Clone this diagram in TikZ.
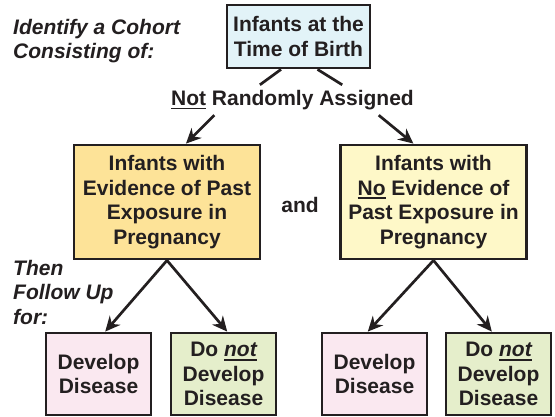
\documentclass[tikz,border=0pt]{standalone}
\usepackage{fontspec}
\setmainfont{Liberation Sans}
\usetikzlibrary{arrows.meta}
\definecolor{ink}{HTML}{231F20}
\definecolor{birthfill}{HTML}{E2F3F8}
\definecolor{exposedfill}{HTML}{FDE398}
\definecolor{unexposedfill}{HTML}{FEF8C8}
\definecolor{diseasefill}{HTML}{FAE8F0}
\definecolor{healthyfill}{HTML}{E5EECB}
\newcommand\undl[1]{\setbox0\hbox{#1}\rlap{\rule[-4pt]{\wd0}{1.8pt}}\box0\relax}

\begin{document}
\begin{tikzpicture}[x=1pt,y=-1pt,
  every node/.style={font=\fontsize{21}{24.5}\selectfont\bfseries, text=ink, inner sep=0pt, align=center},
  cellbox/.style={draw=ink, line width=2.8pt},
  midbox/.style={cellbox, minimum width=186pt, minimum height=114pt},
  endbox/.style={cellbox, minimum width=105pt, minimum height=82pt},
  note/.style={font=\fontsize{21}{24.5}\selectfont\bfseries\itshape, align=left, anchor=north west},
  connector/.style={draw=ink, line width=2.7pt},
  pointer/.style={connector, -{Stealth[length=15pt,width=14pt]}}]
\useasboundingbox (0,0) rectangle (555,417);
\node[cellbox, fill=birthfill, minimum width=143pt, minimum height=63pt] (birth) at (298.5,36.5) {Infants at the\\Time of Birth};
\node[minimum height=30pt] (assign) at (292.5,100) {\undl{Not} Randomly Assigned};
\node[midbox, fill=exposedfill] (exposed) at (167,202) {Infants with\\Evidence of Past\\Exposure in\\Pregnancy};
\node (and) at (300,204.5) {and};
\node[midbox, fill=unexposedfill] (unexposed) at (433.5,202) {Infants with\\\undl{No} Evidence of\\Past Exposure in\\Pregnancy};
\node[endbox, fill=diseasefill] (expdis) at (98.5,374) {Develop\\Disease};
\node[endbox, fill=healthyfill] (expnodis) at (223.5,374) {Do \undl{\itshape not}\\Develop\\Disease};
\node[endbox, fill=diseasefill] (unexpdis) at (374.5,374) {Develop\\Disease};
\node[endbox, fill=healthyfill] (unexpnodis) at (498.5,374) {Do \undl{\itshape not}\\Develop\\Disease};
% side notes
\node[note] (cohortnote) at (13,19) {Identify a Cohort\\Consisting of:};
\node[note] (follownote) at (13,260) {Then\\Follow Up\\for:};
% connectors
\draw[connector] (birth.242.4) -- (assign.155.7);
\draw[connector] (birth.300.4) -- (assign.17.9);
\draw[pointer] (assign.191.4) -- (exposed.72.5);
\draw[pointer] (assign.350.4) -- (unexposed.109.8);
\draw[pointer] (exposed.south) -- (expdis.81);
\draw[pointer] (exposed.south) -- (expnodis.85);
\draw[pointer] (unexposed.south) -- (unexpdis.99);
\draw[pointer] (unexposed.south) -- (unexpnodis.99);
\end{tikzpicture}
\end{document}
